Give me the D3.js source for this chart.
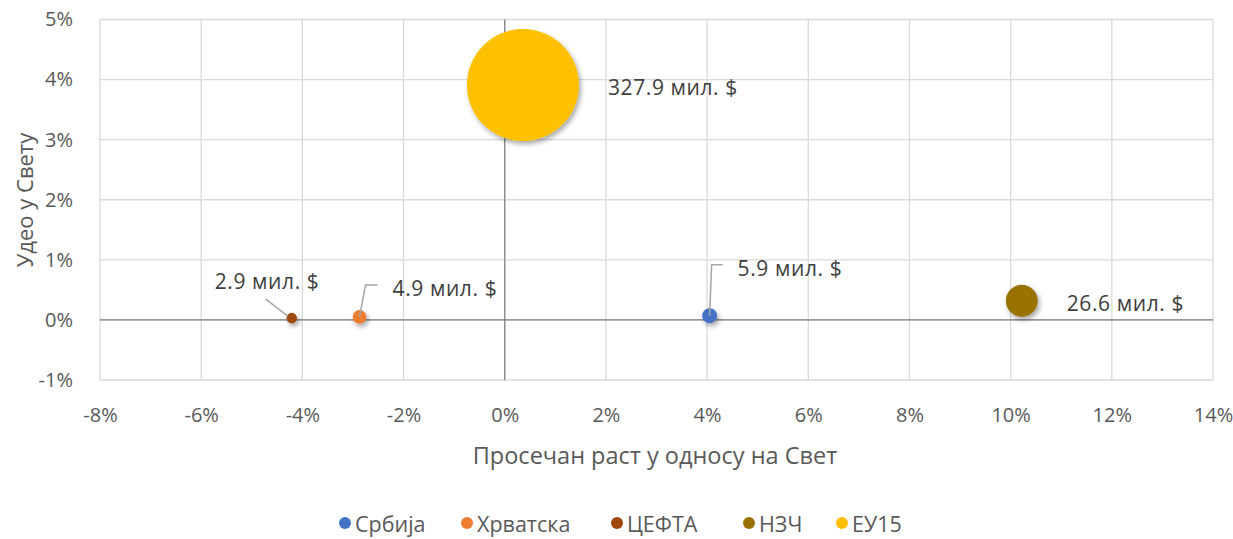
<!DOCTYPE html>
<html><head><meta charset="utf-8">
<script src="https://cdn.jsdelivr.net/npm/d3@7"></script>
<style>
body{margin:0;background:#fff;}
svg{display:block;}
text{font-family:"Open Sans","Noto Sans",sans-serif;}
</style></head>
<body>
<svg id="chart" width="1233" height="539"></svg>
<script>
const seriesNames = ["Србија","Хрватска","ЦЕФТА","НЗЧ","ЕУ15"];
const growth = [4.05, -2.87, -4.21, 10.22, 0.36];   // Просечан раст у односу на Свет (%)
const share  = [0.07, 0.05, 0.03, 0.32, 3.91];      // Удео у Свету (%)
const sizes  = [5.9, 4.9, 2.9, 26.6, 327.9];        // мил. $
const labels = ["5.9 мил. $","4.9 мил. $","2.9 мил. $","26.6 мил. $","327.9 мил. $"];
const xTicks = [-8,-6,-4,-2,0,2,4,6,8,10,12,14];
const yTicks = [-1,0,1,2,3,4,5];

const colors = ["#4472C4","#ED7D31","#9E480E","#997300","#FFC000"];
// label layout (offsets from bubble centre) and leader lines
const layout = [
  {dx:28, dy:-48, leader:[[0,0],[2,-51],[13,-51]]},
  {dx:33, dy:-29, leader:[[0,0],[6,-32],[18,-32]]},
  {dx:-77, dy:-37, leader:[[-4,-2],[-26,-19]]},
  {dx:45, dy:2, leader:null},
  {dx:85, dy:2, leader:null}
];

const svg = d3.select("#chart");
const x = d3.scaleLinear().domain([-8,14]).range([100,1213]);
const y = d3.scaleLinear().domain([-1,5]).range([380,19.5]);
const r = d3.scaleSqrt().domain([0,327.9]).range([0,56]);

const defs = svg.append("defs");
const f = defs.append("filter").attr("id","sh").attr("x","-50%").attr("y","-50%").attr("width","200%").attr("height","200%");
f.append("feDropShadow").attr("dx",2).attr("dy",3).attr("stdDeviation",2.5).attr("flood-color","#000").attr("flood-opacity",0.35);

// grid
svg.append("g").selectAll("line").data(xTicks).join("line")
  .attr("x1",d=>x(d)).attr("x2",d=>x(d)).attr("y1",y(5)).attr("y2",y(-1))
  .attr("stroke","#d9d9d9").attr("stroke-width",1.3);
svg.append("g").selectAll("line").data(yTicks).join("line")
  .attr("y1",d=>y(d)).attr("y2",d=>y(d)).attr("x1",x(-8)).attr("x2",x(14))
  .attr("stroke","#d9d9d9").attr("stroke-width",1.3);
// zero axes
svg.append("line").attr("x1",x(0)).attr("x2",x(0)).attr("y1",y(5)).attr("y2",y(-1)).attr("stroke","#7f7f7f").attr("stroke-width",1.2);
svg.append("line").attr("x1",x(-8)).attr("x2",x(14)).attr("y1",y(0)).attr("y2",y(0)).attr("stroke","#7f7f7f").attr("stroke-width",1.2);

// axes tick labels
const xAxis = d3.axisBottom(x).tickValues(xTicks).tickFormat(d=>d+"%").tickSize(0).tickPadding(0);
const gx = svg.append("g").attr("transform",`translate(0,${y(-1)+36})`).call(xAxis);
gx.select(".domain").remove();
gx.selectAll("text").attr("fill","#595959").attr("font-size",20).attr("dy","0.32em");

const yAxis = d3.axisLeft(y).tickValues(yTicks).tickFormat(d=>d+"%").tickSize(0).tickPadding(0);
const gy = svg.append("g").attr("transform",`translate(73,0)`).call(yAxis);
gy.select(".domain").remove();
gy.selectAll("text").attr("fill","#595959").attr("font-size",20).attr("dy","0.32em");

// axis titles
svg.append("text").attr("x",655).attr("y",455).attr("text-anchor","middle").attr("dominant-baseline","central")
  .attr("fill","#595959").attr("font-size",23.5).text("Просечан раст у односу на Свет");
svg.append("text").attr("transform","translate(24,200) rotate(-90)").attr("text-anchor","middle").attr("dominant-baseline","central")
  .attr("fill","#595959").attr("font-size",22).text("Удео у Свету");

// bubbles
const data = seriesNames.map((n,i)=>({n,x:growth[i],y:share[i],s:sizes[i],c:colors[i],l:labels[i],lay:layout[i]}));
const order = d3.range(data.length).sort((a,b)=>sizes[b]-sizes[a]);
svg.append("g").selectAll("circle").data(order.map(i=>data[i])).join("circle")
  .attr("cx",d=>x(d.x)).attr("cy",d=>y(d.y)).attr("r",d=>r(d.s))
  .attr("fill",d=>d.c).attr("filter","url(#sh)");

// leader lines
svg.append("g").selectAll("path").data(data.filter(d=>d.lay.leader)).join("path")
  .attr("d",d=>d3.line()(d.lay.leader.map(p=>[x(d.x)+p[0],y(d.y)+p[1]])))
  .attr("fill","none").attr("stroke","#a6a6a6").attr("stroke-width",1.5);

// data labels
svg.append("g").selectAll("text").data(data).join("text")
  .attr("x",d=>x(d.x)+d.lay.dx).attr("y",d=>y(d.y)+d.lay.dy)
  .attr("dominant-baseline","central").attr("fill","#404040").attr("font-size",21)
  .attr("letter-spacing",0.6).text(d=>d.l);

// legend
const legX = [345,467,617,749,842];
const lg = svg.append("g").selectAll("g").data(data).join("g").attr("transform",(d,i)=>`translate(${legX[i]},523)`);
lg.append("circle").attr("r",6).attr("fill",d=>d.c);
lg.append("text").attr("x",10).attr("dominant-baseline","central").attr("fill","#595959").attr("font-size",21.5).text(d=>d.n);
</script>
</body></html>
